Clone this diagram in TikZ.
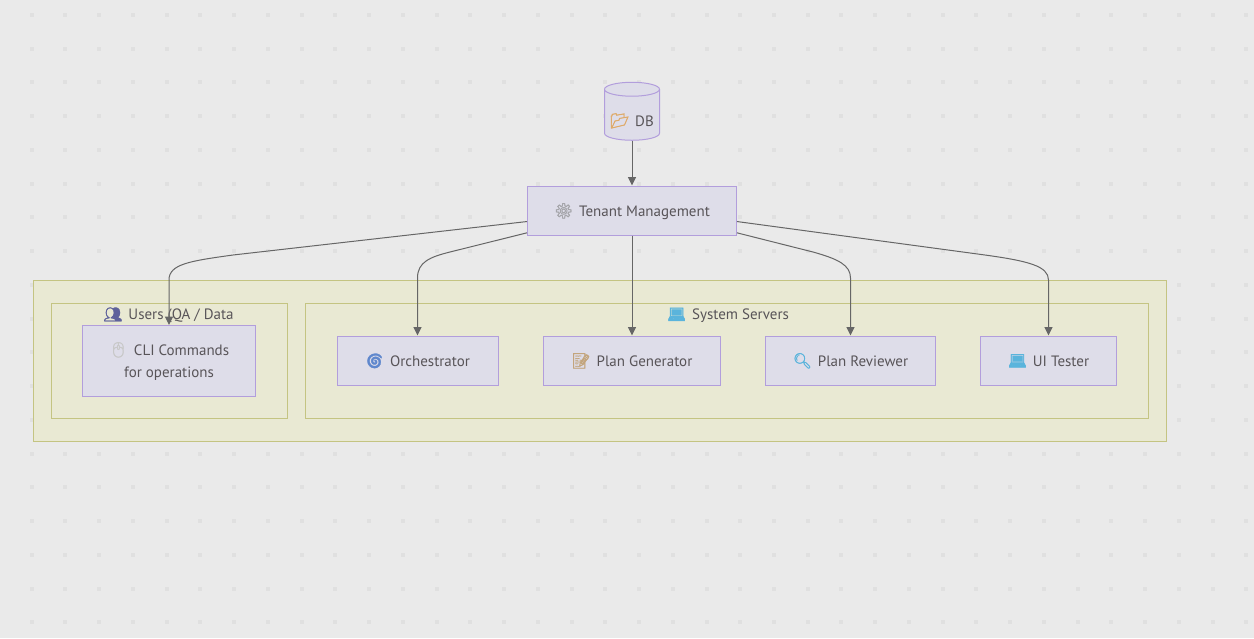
\documentclass[tikz,border=0pt]{standalone}
\usepackage{fontspec}
\setmainfont{PT Sans}
\newfontfamily\emojifont[FakeBold=2]{Noto Emoji}
\usepackage{tikz}
\usetikzlibrary{positioning, arrows.meta, shapes.geometric}
\definecolor{bgrey}{RGB}{234, 234, 234}
\definecolor{dotgrey}{RGB}{224, 224, 224}
\definecolor{nodefill}{RGB}{222, 221, 233}
\definecolor{nodeline}{RGB}{178, 158, 220}
\definecolor{groupfill}{RGB}{233, 233, 211}
\definecolor{groupline}{RGB}{196, 196, 130}
\definecolor{edgegrey}{RGB}{102, 102, 102}
\definecolor{labelgrey}{RGB}{88, 84, 88}
\definecolor{iconusers}{RGB}{95, 98, 155}
\definecolor{iconscreen}{RGB}{90, 180, 220}
\definecolor{iconmouse}{RGB}{200, 200, 200}
\definecolor{iconswirl}{RGB}{95, 135, 205}
\definecolor{iconpaper}{RGB}{195, 165, 125}
\definecolor{icongear}{RGB}{165, 165, 170}
\definecolor{iconfolder}{RGB}{222, 170, 105}
\newcommand{\icon}[2]{{\emojifont\color{#1}#2}\hspace{6pt}}
\tikzset{
    groupbox/.style={draw=groupline, fill=groupfill, line width=1pt},
    hostbox/.style={draw=nodeline, fill=nodefill, line width=1pt, minimum height=49pt, text=labelgrey, font=\fontsize{15}{22}\selectfont, align=center},
    oneline/.style={text height=11pt, text depth=0pt},
    grouplabel/.style={text=labelgrey, font=\fontsize{15}{17}\selectfont, text height=11pt, text depth=0pt},
    edgeline/.style={draw=edgegrey, line width=1pt, -{Triangle[length=8.5pt, width=8pt]}}
}
\begin{document}
\begin{tikzpicture}[x=1pt, y=-1pt]
    \useasboundingbox (0,0) rectangle (1254,638);
    \fill [bgrey] (0,0) rectangle (1254,638);
    % Background dots
    \foreach \row in {0,...,18} {
        \foreach \col in {0,...,36} {
            \fill [dotgrey] (31.7+33.74*\col-2,15+33.74*\row-2) rectangle ++(4,4);
        }
    }

    % Group boxes
    \node [groupbox, minimum width=1133pt, minimum height=161pt, anchor=north west] (infra) at (33,280) {};
    \node [groupbox, minimum width=236pt, minimum height=115pt, anchor=north west] (users) at (51,303) {};
    \node [groupbox, minimum width=843pt, minimum height=115pt, anchor=north west] (servers) at (305,303) {};
    \node [grouplabel] (userslabel) at (168.5,314) {\icon{iconusers}{👥}Users (QA / Data};
    \node [grouplabel] (serverslabel) at (728,314) {\icon{iconscreen}{💻}System Servers};

    % Host nodes
    \node [hostbox, minimum width=173pt, minimum height=71pt, text height=32pt, text depth=0pt] (cli) at (169,361) {\icon{iconmouse}{🖱}CLI Commands\\for operations};
    \node [hostbox, oneline, minimum width=161pt] (orch) at (417.5,360.5) {\icon{iconswirl}{🌀}Orchestrator};
    \node [hostbox, oneline, minimum width=177pt] (plangen) at (632,360.5) {\icon{iconpaper}{📝}Plan Generator};
    \node [hostbox, oneline, minimum width=170pt] (planrev) at (850.5,360.5) {\icon{iconscreen}{🔍}Plan Reviewer};
    \node [hostbox, oneline, minimum width=136pt] (uitest) at (1048.5,360.5) {\icon{iconscreen}{💻}UI Tester};
    \node [hostbox, oneline, minimum width=209pt] (tenant) at (632,210.5) {\icon{icongear}{⚙}Tenant Management};
    \node [draw=nodeline, fill=nodefill, line width=1pt, shape=cylinder, shape border rotate=90, aspect=0.32, minimum width=55pt, minimum height=58pt, text=labelgrey, font=\fontsize{15}{17}\selectfont, inner xsep=0pt] (db) at (632,115) {\raisebox{-11pt}[0pt][0pt]{\icon{iconfolder}{📂}DB}};

    % Edges
    \draw [edgeline] (db) -- (tenant);
    \draw [edgeline] (tenant.186.3) -- (233,255) .. controls (190,261) and (169,264) .. (169,280) -- (cli.north);
    \draw [edgeline] (tenant.192.7) -- (450,252) .. controls (430,257) and (417.5,262) .. (417.5,278) -- (orch.north);
    \draw [edgeline] (tenant.south) -- (plangen.north);
    \draw [edgeline] (tenant.-12.7) -- (813,252) .. controls (838,259) and (850.5,265) .. (850.5,278) -- (planrev.north);
    \draw [edgeline] (tenant.-6.3) -- (985,255) .. controls (1028,261) and (1048.5,266) .. (1048.5,280) -- (uitest.north);
\end{tikzpicture}
\end{document}
